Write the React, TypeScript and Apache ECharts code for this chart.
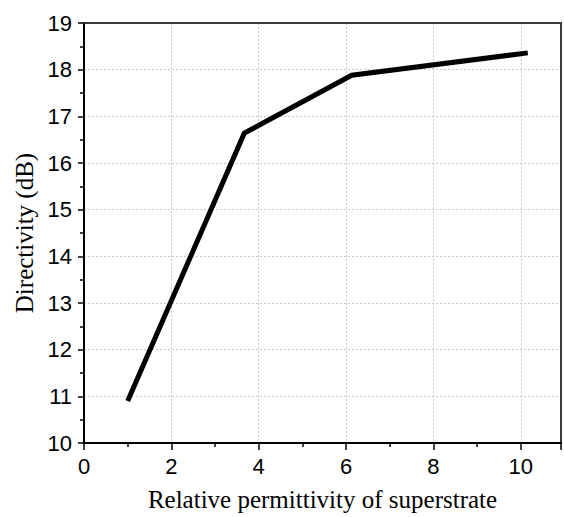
import React, { useEffect, useRef } from "react";
import * as echarts from "echarts";

const permittivity = [1.0, 3.67, 6.13, 10.16];
const directivity = [10.9, 16.64, 17.88, 18.36];
const xTitle = "Relative permittivity of superstrate";
const yTitle = "Directivity (dB)";

export default function App() {
  const ref = useRef<HTMLDivElement>(null);
  useEffect(() => {
    if (!ref.current) return;
    document.body.style.margin = "0";
    const chart = echarts.init(ref.current, null, { renderer: "svg" });
    const data = permittivity.map((x, i) => [x, directivity[i]]);
    const frame = { show: true, onZero: false, lineStyle: { color: "#3a3a3a", width: 2 } };
    chart.setOption({
      animation: false,
      backgroundColor: "#ffffff",
      grid: { left: 84, top: 23, right: 3, bottom: 73 },
      xAxis: [
        {
          type: "value",
          min: 0,
          max: 10.92,
          interval: 2,
          name: xTitle,
          nameLocation: "middle",
          nameGap: 44,
          nameTextStyle: { fontFamily: "Liberation Serif", fontSize: 25, color: "#000" },
          axisLine: { show: true, onZero: false, lineStyle: { color: "#000", width: 2 } },
          axisTick: { show: true, inside: false, length: 7, lineStyle: { color: "#000", width: 1.5 } },
          minorTick: { show: true, splitNumber: 2, length: 4, lineStyle: { color: "#000", width: 1.5 } },
          axisLabel: {
            fontFamily: "Liberation Sans",
            fontSize: 22,
            color: "#000",
            margin: 12,
            showMaxLabel: false,
          },
          splitLine: {
            show: true,
            showMinLine: false,
            showMaxLine: false,
            lineStyle: { color: "#c8c8c8", type: [2, 2], width: 1 },
          },
        },
        {
          type: "value",
          position: "top",
          min: 0,
          max: 10.92,
          interval: 2,
          axisLine: frame,
          axisTick: { show: false },
          axisLabel: { show: false },
          splitLine: { show: false },
        },
      ],
      yAxis: [
        {
          type: "value",
          min: 10,
          max: 19,
          interval: 1,
          name: yTitle,
          nameLocation: "middle",
          nameGap: 46,
          nameTextStyle: { fontFamily: "Liberation Serif", fontSize: 25, color: "#000" },
          axisLine: { show: true, onZero: false, lineStyle: { color: "#000", width: 2 } },
          axisTick: { show: true, inside: false, length: 6, lineStyle: { color: "#000", width: 1.5 } },
          minorTick: { show: true, splitNumber: 2, length: 4, lineStyle: { color: "#000", width: 1.5 } },
          axisLabel: {
            fontFamily: "Liberation Sans",
            fontSize: 22,
            color: "#000",
            margin: 12,
          },
          splitLine: {
            show: true,
            showMinLine: false,
            showMaxLine: false,
            lineStyle: { color: "#c8c8c8", type: [2, 2], width: 1 },
          },
        },
        {
          type: "value",
          position: "right",
          min: 10,
          max: 19,
          interval: 1,
          axisLine: frame,
          axisTick: { show: false },
          axisLabel: { show: false },
          splitLine: { show: false },
        },
      ],
      series: [
        {
          type: "line",
          data,
          symbol: "none",
          lineStyle: { color: "#000", width: 5, cap: "butt", join: "miter" },
        },
      ],
    });
    return () => chart.dispose();
  }, []);
  return <div ref={ref} style={{ width: 564, height: 517 }} />;
}
